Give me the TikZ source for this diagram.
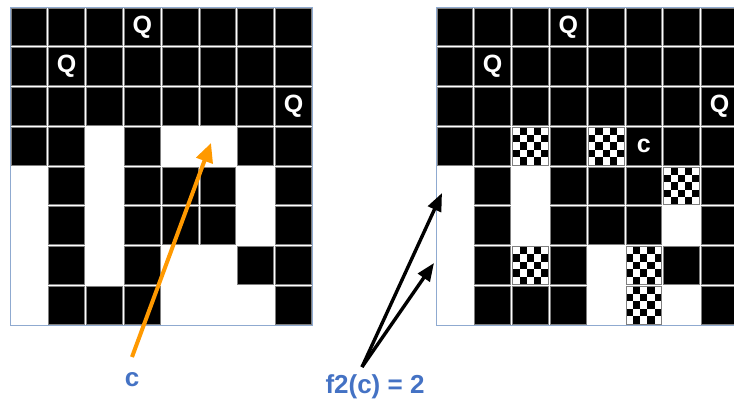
\documentclass[tikz,border=0pt]{standalone}
\usepackage{fontspec}
\setmainfont{Liberation Sans}
\usetikzlibrary{arrows.meta}
\definecolor{framecol}{HTML}{8FAAD0}
\definecolor{cellline}{HTML}{7F7F7F}
\definecolor{labelblue}{HTML}{4472C4}
\definecolor{arroworange}{HTML}{FF9900}
\tikzset{
  blackcell/.style={fill=black, draw=cellline, line width=0.9pt},
  framebox/.style={draw=framecol, line width=0.9pt},
  queen/.style={text=white, font=\bfseries\fontsize{25}{28}\selectfont, inner sep=0pt},
  lbl/.style={text=labelblue, font=\bfseries\fontsize{26}{30}\selectfont, inner sep=0pt},
  orangearrow/.style={draw=arroworange, line width=4pt, -{Triangle[length=19pt,width=17pt]}},
  blackarrow/.style={draw=black, line width=3.4pt, -{Triangle[length=18pt,width=14pt]}}
}
\newcommand{\cw}{37.8}
\newcommand{\ch}{39.75}
\begin{document}
\begin{tikzpicture}[x=1pt,y=-1pt]
\useasboundingbox (0,0) rectangle (734,407);
% frames
\draw[framebox] (10,7) rectangle (312.4,325);
\draw[framebox] (436,7) rectangle (740,325);
% black cells of both grids
\foreach \gx/\list in {10/{0/0,1/0,2/0,3/0,4/0,5/0,6/0,7/0,0/1,1/1,2/1,3/1,4/1,5/1,6/1,7/1,0/2,1/2,2/2,3/2,4/2,5/2,6/2,7/2,0/3,1/3,3/3,6/3,7/3,1/4,3/4,4/4,5/4,7/4,1/5,3/5,4/5,5/5,7/5,1/6,3/6,6/6,7/6,1/7,2/7,3/7,7/7},
                        436/{0/0,1/0,2/0,3/0,4/0,5/0,6/0,7/0,0/1,1/1,2/1,3/1,4/1,5/1,6/1,7/1,0/2,1/2,2/2,3/2,4/2,5/2,6/2,7/2,0/3,1/3,3/3,5/3,6/3,7/3,1/4,3/4,4/4,5/4,7/4,1/5,3/5,4/5,5/5,7/5,1/6,3/6,6/6,7/6,1/7,2/7,3/7,7/7}}{
  \foreach \c/\r in \list {
    \draw[blackcell] ({\gx+\c*\cw+1},{7+\r*\ch+1}) rectangle ({\gx+(\c+1)*\cw-1},{7+(\r+1)*\ch-1});
  }
}
% checker cells in right grid
\foreach \c/\r in {2/3,4/3,6/4,2/6,5/6,5/7}{
  \pgfmathsetmacro\xa{436+\c*\cw+1}
  \pgfmathsetmacro\ya{7+\r*\ch+1}
  \pgfmathsetmacro\sw{(\cw-2)/5}
  \pgfmathsetmacro\sh{(\ch-2)/5}
  \fill[white] (\xa,\ya) rectangle ++({\cw-2},{\ch-2});
  \foreach \i in {0,...,4}{
    \foreach \j in {0,...,4}{
      \pgfmathtruncatemacro\parity{mod(\i+\j,2)}
      \ifnum\parity=1
        \fill[black] ({\xa+\i*\sw},{\ya+\j*\sh}) rectangle ++(\sw,\sh);
      \fi
    }
  }
  \draw[cellline, line width=0.9pt] (\xa,\ya) rectangle ++({\cw-2},{\ch-2});
}
% queens
\node[queen] (q1) at ({10+3.5*\cw},{7+0.5*\ch}) {Q};
\node[queen] (q2) at ({10+1.5*\cw},{7+1.5*\ch}) {Q};
\node[queen] (q3) at ({10+7.5*\cw},{7+2.5*\ch}) {Q};
\node[queen] (q4) at ({436+3.5*\cw},{7+0.5*\ch}) {Q};
\node[queen] (q5) at ({436+1.5*\cw},{7+1.5*\ch}) {Q};
\node[queen] (q6) at ({436+7.5*\cw},{7+2.5*\ch}) {Q};
\node[queen] (cc) at ({436+5.5*\cw},{7+3.5*\ch}) {c};
% labels
\node[lbl] (clabel) at (132,380) {c};
\node[lbl] (flabel) at (375,387) {f2(c) = 2};
% arrow ends
\coordinate (otail) at (132,357);
\coordinate (ohead) at (211,143);
\coordinate (btail) at (362,367);
\coordinate (bhead1) at (442,193);
\coordinate (bhead2) at (434,263);
\draw[orangearrow] (otail) -- (ohead);
\draw[blackarrow] (btail) -- (bhead1);
\draw[blackarrow] (btail) -- (bhead2);
\end{tikzpicture}
\end{document}
